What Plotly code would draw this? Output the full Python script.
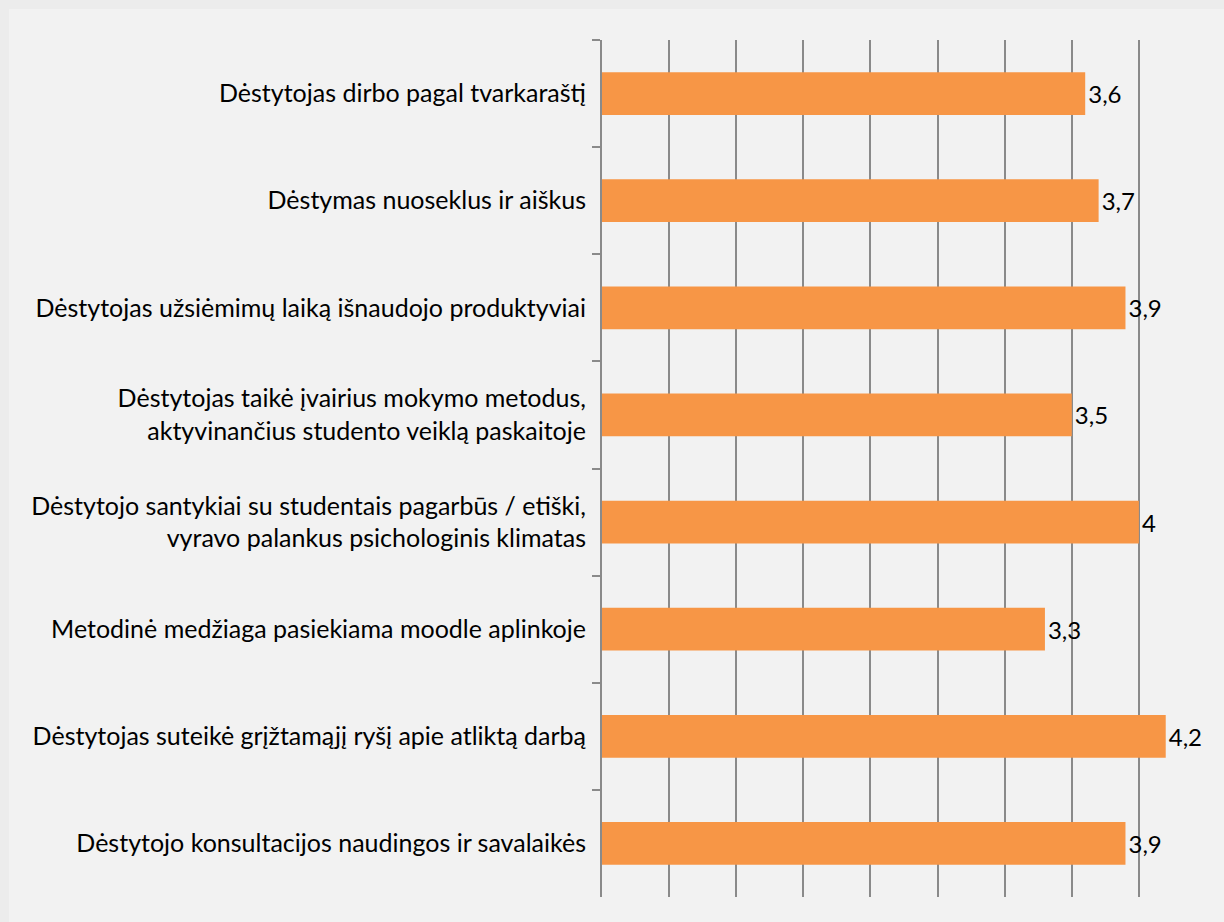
import plotly.graph_objects as go

categories = [
    "Dėstytojas dirbo pagal tvarkaraštį",
    "Dėstymas nuoseklus ir aiškus",
    "Dėstytojas užsiėmimų laiką išnaudojo produktyviai",
    "Dėstytojas taikė įvairius mokymo metodus,<br>aktyvinančius studento veiklą paskaitoje",
    "Dėstytojo santykiai su studentais pagarbūs / etiški,<br>vyravo palankus psichologinis klimatas",
    "Metodinė medžiaga pasiekiama moodle aplinkoje",
    "Dėstytojas suteikė grįžtamąjį ryšį apie atliktą darbą",
    "Dėstytojo konsultacijos naudingos ir savalaikės",
]
values = [3.6, 3.7, 3.9, 3.5, 4.0, 3.3, 4.2, 3.9]
labels = [f"{v:g}".replace(".", ",") for v in values]

W, H = 1224, 922
L, R, T, B = 602, 18, 40, 25
FONT = "Lato"
FS = 25

fig = go.Figure(go.Bar(
    x=values, y=categories, orientation="h",
    marker=dict(color="#f79646", line=dict(width=0)),
    text=labels, textposition="outside", cliponaxis=False,
    textfont=dict(family=FONT, size=FS - 1, color="#000000"),
    width=0.4,
))

pw = W - L - R
ph = H - T - B
x0 = (9 - L) / pw
y1 = (H - 9 - B) / ph
fig.add_shape(type="rect", xref="paper", yref="paper", x0=x0, x1=(W - L) / pw + 0.01,
              y0=-B / ph - 0.01, y1=y1, fillcolor="#f2f2f2", line=dict(width=0), layer="below")

fig.update_layout(
    width=W, height=H,
    margin=dict(l=L, r=R, t=T, b=B),
    paper_bgcolor="#ececec", plot_bgcolor="rgba(0,0,0,0)",
    showlegend=False,
    font=dict(family=FONT, size=FS, color="#000000"),
)
fig.update_xaxes(range=[0, 4.5], dtick=0.5, showgrid=True, gridcolor="#8a8a8a", gridwidth=2,
                 showticklabels=False, zeroline=False, showline=False, ticks="")
fig.update_yaxes(autorange="reversed", showline=True, linecolor="#8a8a8a", linewidth=2,
                 ticks="outside", tickson="boundaries", ticklen=8, tickcolor="#8a8a8a", tickwidth=2,
                 showgrid=False, ticklabelstandoff=9)
fig.write_html("out.html", config={"displayModeBar": False},
               post_script="document.body.style.margin='0';document.body.style.overflow='hidden';")
